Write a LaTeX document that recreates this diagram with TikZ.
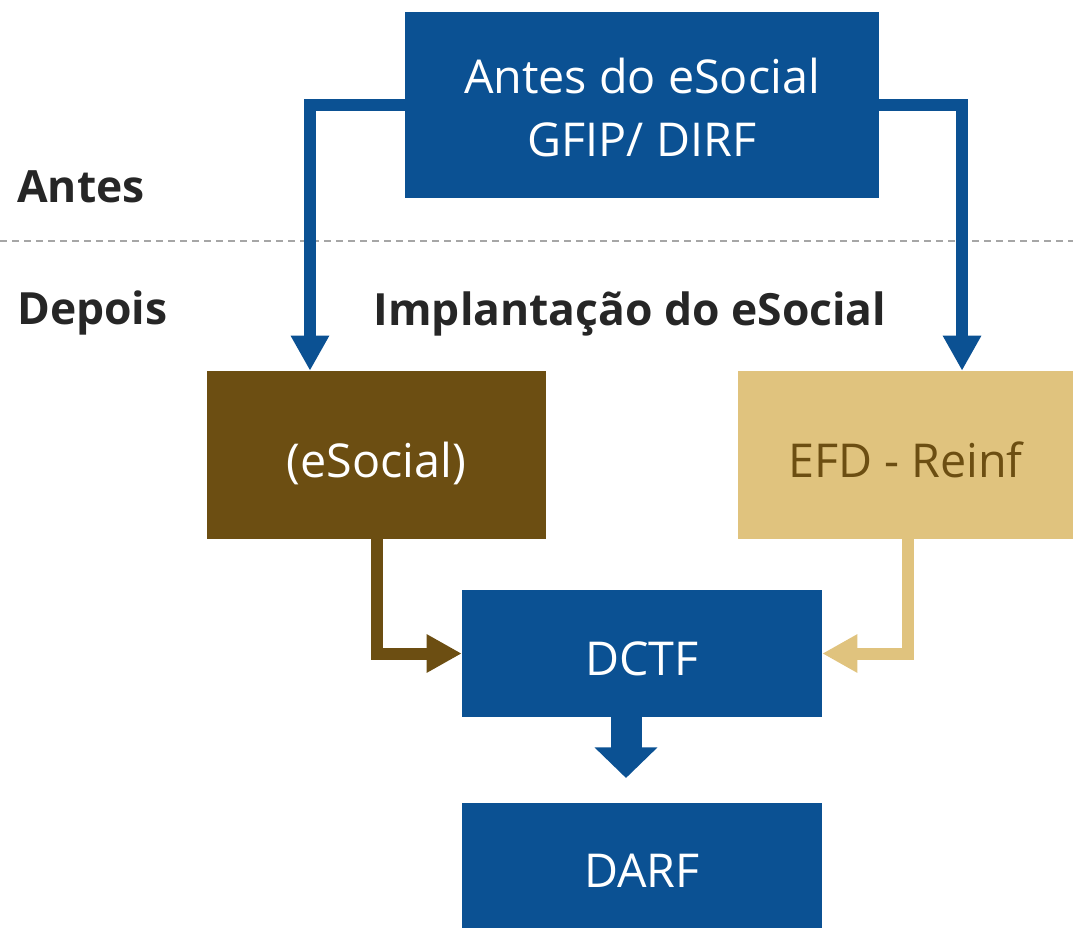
\documentclass[tikz,border=0pt]{standalone}
\usepackage{fontspec}
\setmainfont{Open Sans}
\usetikzlibrary{arrows.meta}

\definecolor{esblue}{RGB}{11,81,147}
\definecolor{esbrown}{RGB}{108,78,18}
\definecolor{estan}{RGB}{224,195,126}
\definecolor{labelgray}{RGB}{38,38,38}

\tikzset{
  box/.style={rectangle, inner sep=0pt, text=white, align=center,
    text height=33.5pt, text depth=0pt, font=\fontsize{35}{47}\selectfont},
  flow/.style={line width=9pt, -{Triangle[length=26.25pt, width=27pt]}},
  lbl/.style={anchor=base west, inner sep=0pt, text=labelgray,
    font=\fontsize{33.3}{40}\selectfont\bfseries},
}

\begin{document}
\begin{tikzpicture}[x=0.75pt, y=-0.75pt]
  \useasboundingbox (0,0) rectangle (1073,928);

  % Separator
  \draw[line width=1.5pt, gray!70, dash pattern=on 5.25pt off 3.75pt] (0,240.5) -- (1073,240.5);

  % Labels
  \node[lbl] (antes) at (17,202) {Antes};
  \node[lbl] (depois) at (17,324) {Depois};
  \node[lbl, anchor=base] (impl) at (630,325) {Implantação do eSocial};

  % Boxes
  \node[box, fill=esblue, minimum width=355pt, minimum height=139.5pt,
    text height=77pt] (before) at (642,104.7) {Antes do eSocial\\GFIP/ DIRF};
  \node[box, fill=esbrown, minimum width=254.25pt, minimum height=126pt] (esocial) at (376.5,455) {(eSocial)};
  \node[box, fill=estan, text=esbrown, minimum width=251.25pt, minimum height=126pt] (reinf) at (905.5,455) {EFD - Reinf};
  \node[box, fill=esblue, minimum width=270pt, minimum height=95.25pt] (dctf) at (642,653.5) {DCTF};
  \node[box, fill=esblue, minimum width=270pt, minimum height=93.75pt] (darf) at (642,865.5) {DARF};

  % Connectors
  \draw[flow, esblue] (before.west) -| ([xshift=-49.9pt]esocial.north);
  \draw[flow, esblue] (before.east) -| ([xshift=42.4pt]reinf.north);
  \draw[flow, esbrown] (esocial.south) |- (dctf.west);
  \draw[flow, estan] ([xshift=1.9pt]reinf.south) |- (dctf.east);

  % Block arrow
  \coordinate (darftip) at (626,778);
  \draw[esblue, line width=23.25pt, -{Triangle[length=22.9pt, width=45.75pt]}] ([xshift=-12pt]dctf.south) -- (darftip);
\end{tikzpicture}
\end{document}
